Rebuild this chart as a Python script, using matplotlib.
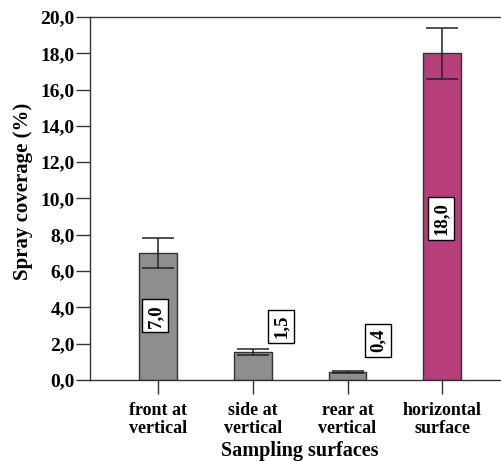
import matplotlib
matplotlib.use("Agg")
import matplotlib.pyplot as plt

categories = ["front at\nvertical", "side at\nvertical", "rear at\nvertical", "horizontal\nsurface"]
values = [7.0, 1.55, 0.44, 18.0]
err_low = [6.15, 1.36, 0.37, 16.6]
err_high = [7.8, 1.72, 0.51, 19.4]
value_labels = ["7,0", "1,5", "0,4", "18,0"]
label_x_offset = [-0.03, 0.30, 0.32, -0.01]
label_y = [3.53, 2.97, 2.2, 8.9]
bar_colors = ["#8e8e8e", "#8e8e8e", "#8e8e8e", "#b63e7b"]
yticks = [0, 2, 4, 6, 8, 10, 12, 14, 16, 18, 20]
ytick_labels = [("%.1f" % v).replace(".", ",") for v in yticks]

plt.rcParams["font.family"] = ["Liberation Serif", "DejaVu Serif"]
plt.rcParams["font.weight"] = "bold"

fig = plt.figure(figsize=(5.01, 4.61), dpi=100)
ax = fig.add_axes([90/501, 1-380/461, 1-90/501, (380-17)/461])

x = list(range(len(categories)))
ax.bar(x, values, width=0.40, color=bar_colors, edgecolor="#333333", linewidth=1.0, zorder=2)
yerr = [[v - l for v, l in zip(values, err_low)], [h - v for v, h in zip(values, err_high)]]
ax.errorbar(x, values, yerr=yerr, fmt="none", ecolor="#222222", elinewidth=1.1,
            capsize=11.5, capthick=1.1, zorder=3)

for i, (lab, dx, yy) in enumerate(zip(value_labels, label_x_offset, label_y)):
    ax.text(i + dx, yy, lab, rotation=90, ha="center", va="center", fontsize=13.5,
            fontweight="bold", zorder=4,
            bbox=dict(boxstyle="square,pad=0.25", facecolor="white", edgecolor="black", linewidth=1.0))

ax.set_xlim(-0.718, 3.62)
ax.set_ylim(0, 20)
ax.set_yticks(yticks)
ax.set_yticklabels(ytick_labels, fontsize=14, fontweight="bold")
ax.set_xticks(x)
ax.set_xticklabels(categories, fontsize=13, fontweight="bold", linespacing=1.05)
ax.tick_params(axis="both", direction="out", length=10, width=1.0, color="#333333")
ax.tick_params(axis="y", pad=1)
ax.tick_params(axis="x", pad=6)
for s in ["left", "bottom", "top"]:
    ax.spines[s].set_color("#333333")
    ax.spines[s].set_linewidth(1.0)
ax.spines["right"].set_visible(False)

ax.set_xlabel("Sampling surfaces", fontsize=14.5, fontweight="bold")
ax.xaxis.set_label_coords(0.511, -0.167)
ax.set_ylabel("Spray coverage (%)", fontsize=15, fontweight="bold")
ax.yaxis.set_label_coords(-0.139, 0.52)

fig.savefig("out.png", dpi=100)
